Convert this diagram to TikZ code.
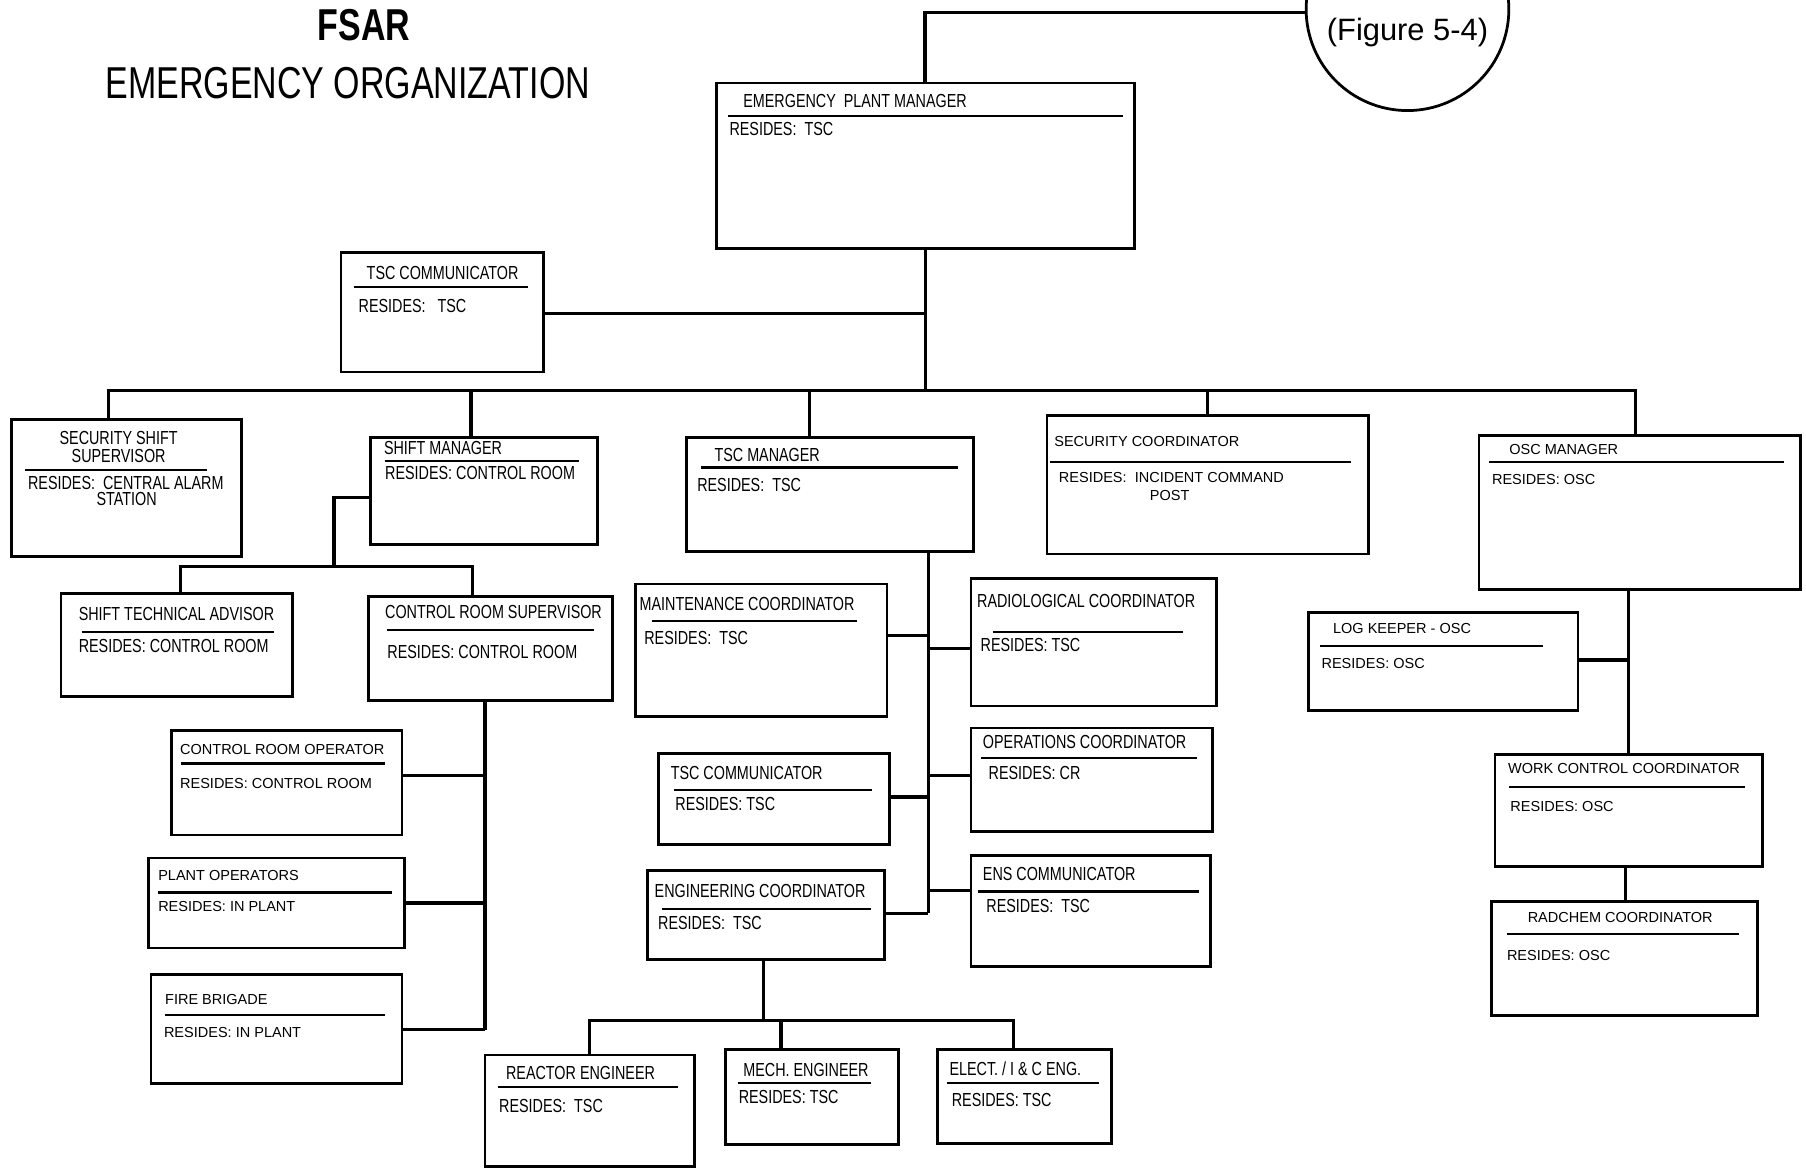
\documentclass[tikz,border=0pt]{standalone}
\usepackage{fontspec}
\setmainfont{Liberation Sans}
\newfontfamily\narrowfont[FakeStretch=0.76]{Liberation Sans}
\usetikzlibrary{fit}

\begin{document}
\begin{tikzpicture}[x=0.5pt,y=-0.5pt,
    box/.style={draw,line width=1.2pt,inner sep=0pt},
    link/.style={line width=1.4pt},
    rule/.style={line width=1pt},
    nt/.style={inner sep=0pt,anchor=west,font=\narrowfont\fontsize{8.2}{8.5}\selectfont},
    wt/.style={inner sep=0pt,anchor=west,font=\fontsize{6.3}{7}\selectfont}]
    \useasboundingbox (0,0) rectangle (1568,1015);
    \clip (0,0) rectangle (1568,1015);
    % title
    \node (fsar) [font=\narrowfont\bfseries\fontsize{19.4}{20}\selectfont] at (316,22) {FSAR};
    \node (title) [font=\narrowfont\fontsize{19.4}{20}\selectfont] at (302,72) {EMERGENCY ORGANIZATION};
    \node (fig) [draw,circle,line width=1.2pt,minimum size=88pt] at (1222,8) {};
    \node (figT) [font=\fontsize{13.4}{14}\selectfont] at (1222,28) {(Figure 5-4)};
    % boxes
    \node (epm) [box,fit={(622,72) (985,216)}] {};
    \node (tsccom) [box,fit={(296,219) (472,323)}] {};
    \node (sss) [box,fit={(10,364) (210,483)}] {};
    \node (sm) [box,fit={(322,380) (519,473)}] {};
    \node (sta) [box,fit={(53,515) (254,605)}] {};
    \node (crs) [box,fit={(320,518) (532,608)}] {};
    \node (cro) [box,fit={(149,634) (349,725)}] {};
    \node (po) [box,fit={(129,745) (351,823)}] {};
    \node (fb) [box,fit={(131,846) (349,941)}] {};
    \node (tscm) [box,fit={(596,380) (845,479)}] {};
    \node (mc) [box,fit={(552,507) (770,622)}] {};
    \node (tsccomb) [box,fit={(572,654) (772,733)}] {};
    \node (ec) [box,fit={(562,756) (768,833)}] {};
    \node (re) [box,fit={(421,916) (603,1013)}] {};
    \node (me) [box,fit={(630,911) (780,994)}] {};
    \node (eic) [box,fit={(814,911) (965,993)}] {};
    \node (rc) [box,fit={(843,502) (1056,613)}] {};
    \node (oc) [box,fit={(843,632) (1053,722)}] {};
    \node (ens) [box,fit={(843,743) (1051,839)}] {};
    \node (sc) [box,fit={(909,361) (1188,481)}] {};
    \node (osc) [box,fit={(1284,378) (1563,512)}] {};
    \node (lk) [box,fit={(1136,532) (1370,617)}] {};
    \node (wcc) [box,fit={(1298,655) (1530,752)}] {};
    \node (rad) [box,fit={(1295,783) (1526,882)}] {};
    % box texts
    \node (epmT) [nt] at (645,88) {EMERGENCY~~PLANT MANAGER};
    \draw [rule] (632,101)--(975,101);
    \node (epmR) [nt] at (633,112) {RESIDES:~~TSC};
    \node (tsccomT) [nt] at (318,237) {TSC COMMUNICATOR};
    \draw [rule] (307,249)--(458,249);
    \node (tsccomR) [nt] at (311,266) {RESIDES:~~~TSC};
    \node (sssT) [nt,anchor=center,align=center,font=\narrowfont\fontsize{8.2}{7.5}\selectfont] at (103,388) {SECURITY SHIFT\\SUPERVISOR};
    \draw [rule] (22,408)--(180,408);
    \node (sssR) [nt] at (24,419) {RESIDES:~~CENTRAL ALARM};
    \node (sssS) [nt,anchor=center] at (110,433) {STATION};
    \node (smT) [nt] at (333,389) {SHIFT MANAGER};
    \draw [rule] (334,400)--(503,400);
    \node (smR) [nt] at (334,411) {RESIDES: CONTROL ROOM};
    \node (staT) [nt] at (68,533) {SHIFT TECHNICAL ADVISOR};
    \draw [rule] (71,549)--(238,549);
    \node (staR) [nt] at (68,561) {RESIDES: CONTROL ROOM};
    \node (crsT) [nt] at (334,531) {CONTROL ROOM SUPERVISOR};
    \draw [rule] (336,547)--(516,547);
    \node (crsR) [nt] at (336,566) {RESIDES: CONTROL ROOM};
    \node (croT) [wt] at (156,651) {CONTROL ROOM OPERATOR};
    \draw [rule] (157,663)--(334,663);
    \node (croR) [wt] at (156,680) {RESIDES: CONTROL ROOM};
    \node (poT) [wt] at (137,760) {PLANT OPERATORS};
    \draw [rule] (137,775)--(340,775);
    \node (poR) [wt] at (137,787) {RESIDES: IN PLANT};
    \node (fbT) [wt] at (143,868) {FIRE BRIGADE};
    \draw [rule] (143,881)--(334,881);
    \node (fbR) [wt] at (142,896) {RESIDES: IN PLANT};
    \node (tscmT) [nt] at (620,395) {TSC MANAGER};
    \draw [rule] (609,406)--(832,406);
    \node (tscmR) [nt] at (605,421) {RESIDES:~~TSC};
    \node (mcT) [nt] at (555,524) {MAINTENANCE COORDINATOR};
    \draw [rule] (566,539)--(744,539);
    \node (mcR) [nt] at (559,554) {RESIDES:~~TSC};
    \node (tsccombT) [nt] at (582,671) {TSC COMMUNICATOR};
    \draw [rule] (585,686)--(757,686);
    \node (tsccombR) [nt] at (586,698) {RESIDES: TSC};
    \node (ecT) [nt] at (568,774) {ENGINEERING COORDINATOR};
    \draw [rule] (575,789)--(756,789);
    \node (ecR) [nt] at (571,801) {RESIDES:~~TSC};
    \node (reT) [nt] at (439,932) {REACTOR ENGINEER};
    \draw [rule] (432,944)--(589,944);
    \node (reR) [nt] at (433,960) {RESIDES:~~TSC};
    \node (meT) [nt] at (645,929) {MECH. ENGINEER};
    \draw [rule] (641,940)--(756,940);
    \node (meR) [nt] at (641,952) {RESIDES: TSC};
    \node (eicT) [nt] at (824,928) {ELECT. / I \& C ENG.};
    \draw [rule] (822,940)--(954,940);
    \node (eicR) [nt] at (826,955) {RESIDES: TSC};
    \node (rcT) [nt] at (848,522) {RADIOLOGICAL COORDINATOR};
    \draw [rule] (862,549)--(1027,549);
    \node (rcR) [nt] at (851,560) {RESIDES: TSC};
    \node (ocT) [nt] at (853,644) {OPERATIONS COORDINATOR};
    \draw [rule] (852,658)--(1039,658);
    \node (ocR) [nt] at (858,671) {RESIDES: CR};
    \node (ensT) [nt] at (853,759) {ENS COMMUNICATOR};
    \draw [rule] (849,774)--(1041,774);
    \node (ensR) [nt] at (856,787) {RESIDES:~~TSC};
    \node (scT) [wt] at (915,383) {SECURITY COORDINATOR};
    \draw [rule] (912,401)--(1173,401);
    \node (scR) [wt] at (919,415) {RESIDES:~~INCIDENT COMMAND};
    \node (scP) [wt] at (998,430) {POST};
    \node (oscT) [wt] at (1310,390) {OSC MANAGER};
    \draw [rule] (1293,401)--(1549,401);
    \node (oscR) [wt] at (1295,416) {RESIDES: OSC};
    \node (lkT) [wt] at (1157,546) {LOG KEEPER - OSC};
    \draw [rule] (1146,561)--(1340,561);
    \node (lkR) [wt] at (1147,576) {RESIDES: OSC};
    \node (wccT) [wt] at (1309,667) {WORK CONTROL COORDINATOR};
    \draw [rule] (1310,683)--(1515,683);
    \node (wccR) [wt] at (1311,700) {RESIDES: OSC};
    \node (radT) [wt] at (1326,797) {RADCHEM COORDINATOR};
    \draw [rule] (1308,811)--(1510,811);
    \node (radR) [wt] at (1308,830) {RESIDES: OSC};
    % connectors
    \coordinate (busL) at (94,339);
    \coordinate (busR) at (1420,339);
    \draw [link] (fig.west |- 0,11)--(803,11)--(803,0 |- epm.north);
    \draw [link] (epm.south)--(epm.south |- busL);
    \draw [link] (tsccom.east |- 0,272)--(epm.south |- 0,272);
    \draw [link] (busL |- sss.north)--(busL)--(busR)--(busR |- osc.north);
    \draw [link] (409,339)--(409,0 |- sm.north);
    \draw [link] (703,339)--(703,0 |- tscm.north);
    \draw [link] (sc.north |- busL)--(sc.north);
    % shift manager branch
    \draw [link] (sm.west |- 0,432)--(290,432)--(290,492);
    \draw [link] (157,0 |- sta.north)--(157,492)--(410,492)--(410,0 |- crs.north);
    \draw [link] (421,0 |- crs.south)--(421,894);
    \draw [link] (cro.east |- 0,673)--(421,673);
    \draw [link] (po.east |- 0,784)--(421,784);
    \draw [link] (fb.east |- 0,894)--(421,894);
    % tsc manager branch
    \draw [link] (806,0 |- tscm.south)--(806,793);
    \draw [link] (mc.east |- 0,552)--(806,552);
    \draw [link] (tsccomb.east |- 0,692)--(806,692);
    \draw [link] (ec.east |- 0,793)--(806,793);
    \draw [link] (806,563)--(rc.west |- 0,563);
    \draw [link] (806,673)--(oc.west |- 0,673);
    \draw [link] (806,773)--(ens.west |- 0,773);
    \draw [link] (663,0 |- ec.south)--(663,886);
    \draw [link] (re.north)--(re.north |- 0,886)--(880,886)--(880,0 |- eic.north);
    \draw [link] (678,886)--(678,0 |- me.north);
    % osc manager branch
    \draw [link] (1414,0 |- osc.south)--(1414,0 |- wcc.north);
    \draw [link] (lk.east |- 0,573)--(1414,573);
    \draw [link] (1411,0 |- wcc.south)--(1411,0 |- rad.north);
\end{tikzpicture}
\end{document}
